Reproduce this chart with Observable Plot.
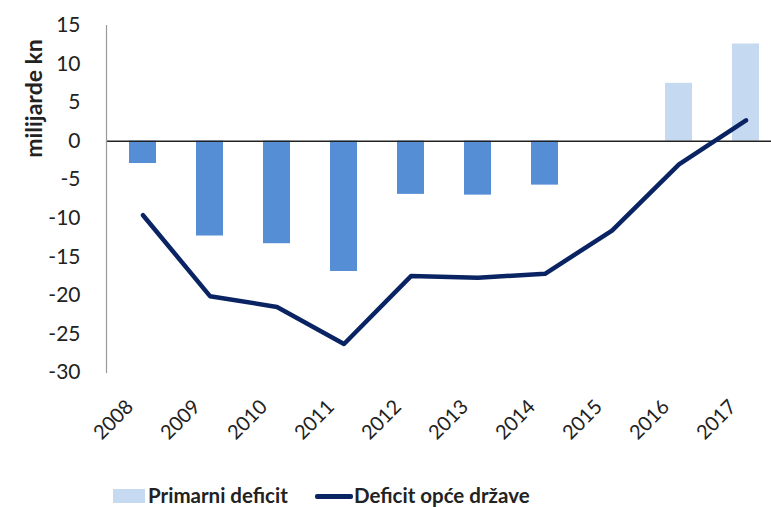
<!DOCTYPE html>
<html>
<head>
<meta charset="utf-8">
<script src="https://cdn.jsdelivr.net/npm/d3@7"></script>
<script src="https://cdn.jsdelivr.net/npm/@observablehq/plot@0.6"></script>
<style>
  body { margin: 0; background: #fff; font-family: Lato, "Open Sans", sans-serif; }
  #wrap { width: 771px; height: 507px; position: relative; overflow: hidden; }
  .legend { position: absolute; top: 482px; left: 0; height: 25px; width: 771px; font-weight: bold; font-size: 20.5px; color: #222; }
  .legend .sw1 { position: absolute; left: 113px; top: 7px; width: 32px; height: 14px; background: #c5d9f1; }
  .legend .t1 { position: absolute; left: 148px; top: 1px; }
  .legend .sw2 { position: absolute; left: 315px; top: 12px; width: 38px; height: 5px; background: #0a2463; border-radius: 2px; }
  .legend .t2 { position: absolute; left: 354px; top: 1px; }
</style>
</head>
<body>
<div id="wrap"></div>
<script>
const years = ["2008","2009","2010","2011","2012","2013","2014","2015","2016","2017"];
const primarniDeficit = [-2.9, -12.3, -13.3, -16.9, -6.9, -7.0, -5.7, 0, 7.5, 12.6];
const deficitOpceDrzave = [-9.6, -20.1, -21.5, -26.3, -17.5, -17.7, -17.2, -11.6, -3.0, 2.7];
const yTicks = [15, 10, 5, 0, -5, -10, -15, -20, -25, -30];
const seriesNames = ["Primarni deficit", "Deficit opće države"];

const data = years.map((y, i) => ({year: y, primary: primarniDeficit[i], total: deficitOpceDrzave[i]}));

const chart = Plot.plot({
  width: 771,
  height: 478,
  marginTop: 25,
  marginBottom: 106,
  marginLeft: 106,
  marginRight: 0,
  style: {fontFamily: "Lato, 'Open Sans', sans-serif", color: "#222", background: "#fff"},
  x: {domain: years, range: [106, 781], paddingInner: 0.6, paddingOuter: 0.3, align: 0.5},
  y: {domain: [-30, 15], ticks: yTicks},
  marks: [
    Plot.barY(data, {x: "year", y: "primary", fill: d => d.primary > 0 ? "#c5d9f1" : "#558ed5"}),
    Plot.ruleY([0], {stroke: "#222", strokeWidth: 1.5}),
    Plot.frame({anchor: "left", stroke: "#999", strokeWidth: 1.2}),
    Plot.line(data, {x: "year", y: "total", stroke: "#0a2463", strokeWidth: 4.5, strokeLinejoin: "round", strokeLinecap: "round"}),
    Plot.axisY({ticks: yTicks, tickSize: 0, tickPadding: 26, fontSize: 21, label: null, tickFormat: d => d}),
    Plot.axisX({tickSize: 0, tickRotate: -45, tickPadding: 31, dx: -13, fontSize: 20, label: null}),
    Plot.text(["milijarde kn"], {frameAnchor: "top-left", rotate: -90, dx: -81, dy: 73, fontSize: 23, fontWeight: "bold", fill: "#222", textAnchor: "middle"})
  ]
});

const wrap = document.getElementById("wrap");
wrap.appendChild(chart);
const legend = document.createElement("div");
legend.className = "legend";
legend.innerHTML = `<div class="sw1"></div><div class="t1">${seriesNames[0]}</div><div class="sw2"></div><div class="t2">${seriesNames[1]}</div>`;
wrap.appendChild(legend);
</script>
</body>
</html>
